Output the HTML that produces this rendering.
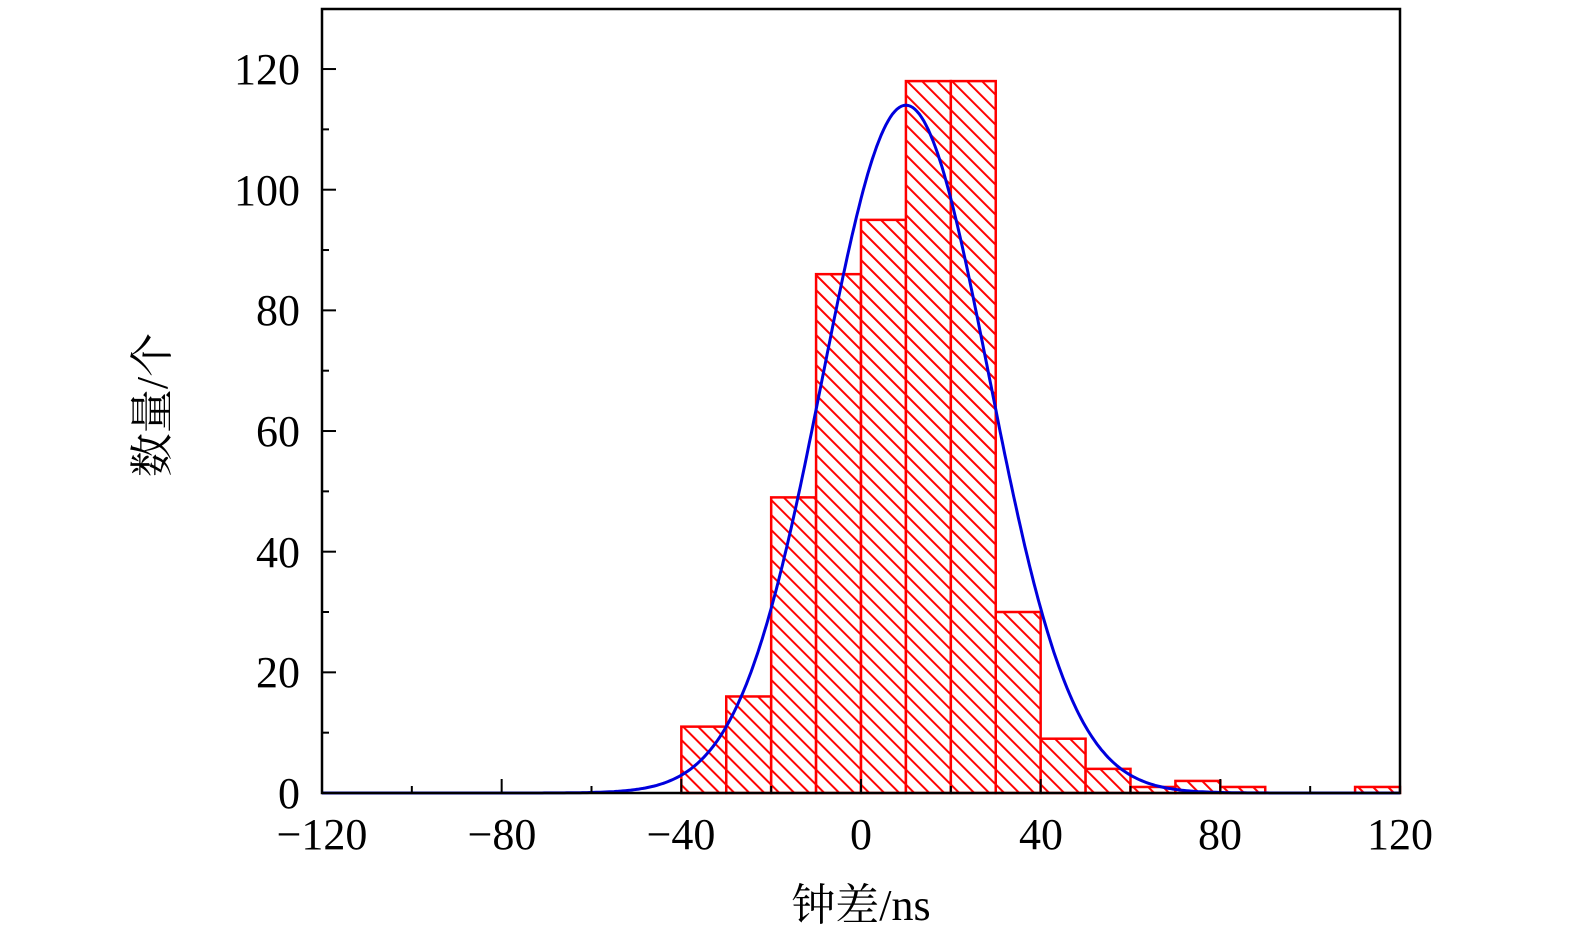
<!DOCTYPE html>
<html><head><meta charset="utf-8"><style>
body{margin:0;background:#fff;}
svg{display:block;}
text{font-family:"Liberation Serif","Noto Serif CJK SC",serif;font-size:44px;fill:#000;}
</style></head><body>
<svg id="s" width="1575" height="945" viewBox="0 0 1575 945" xmlns="http://www.w3.org/2000/svg">
<defs>
<pattern id="h" patternUnits="userSpaceOnUse" width="10.6" height="10.6" patternTransform="rotate(-45)">
<rect width="10.6" height="10.6" fill="#fff"/>
<line x1="0" y1="0" x2="0" y2="10.6" stroke="#f00" stroke-width="4"/>
</pattern>
</defs>
<g id="bars"></g>
<path id="g" fill="none" stroke="#0000dd" stroke-width="3"/>
<rect x="322" y="9" width="1078" height="784" fill="none" stroke="#000" stroke-width="2.5"/>
<g id="ticks" stroke="#000" stroke-width="2"></g>
<g text-anchor="end">
<text x="300" y="808">0</text><text x="300" y="687">20</text><text x="300" y="567">40</text>
<text x="300" y="446">60</text><text x="300" y="325">80</text><text x="300" y="205">100</text><text x="300" y="84">120</text>
</g>
<g text-anchor="middle">
<text x="322" y="849">−120</text><text x="502" y="849">−80</text><text x="681" y="849">−40</text>
<text x="861" y="849">0</text><text x="1041" y="849">40</text><text x="1220" y="849">80</text><text x="1400" y="849">120</text>
<text x="861" y="920">钟差/ns</text>
</g>
<text x="0" y="0" text-anchor="middle" transform="translate(167,405) rotate(-90)">数量/个</text>
</svg>
<script>
var X=function(v){return 861+v*4.4917},Y=function(v){return 793-v*6.033};
var d=[[-40,11],[-30,16],[-20,49],[-10,86],[0,95],[10,118],[20,118],[30,30],[40,9],[50,4],[60,1],[70,2],[80,1],[110,1]];
var b='';d.forEach(function(p){var x=X(p[0]),y=Y(p[1]);b+='<rect x="'+x+'" y="'+y+'" width="44.9" height="'+(793-y)+'" fill="url(#h)" stroke="#f00" stroke-width="2.5"/>';});
document.getElementById('bars').innerHTML=b;
var s='';for(var v=-120;v<=120;v+=0.5){var g=114*Math.exp(-Math.pow(v-10,2)/(2*18.5*18.5));s+=(v==-120?'M':'L')+X(v).toFixed(1)+','+Y(g).toFixed(1);}
document.getElementById('g').setAttribute('d',s);
var t='';for(var i=0;i<=12;i++){var y=Y(i*10);t+='<line x1="322" x2="'+(i%2?329:336)+'" y1="'+y+'" y2="'+y+'"/>';}
for(var i=-12;i<=12;i++){var x=X(i*10);if(i%2==0){t+='<line x1="'+x+'" x2="'+x+'" y1="793" y2="'+(i%4==0?779:786)+'"/>';}}
document.getElementById('ticks').innerHTML=t;
</script>
</body></html>
